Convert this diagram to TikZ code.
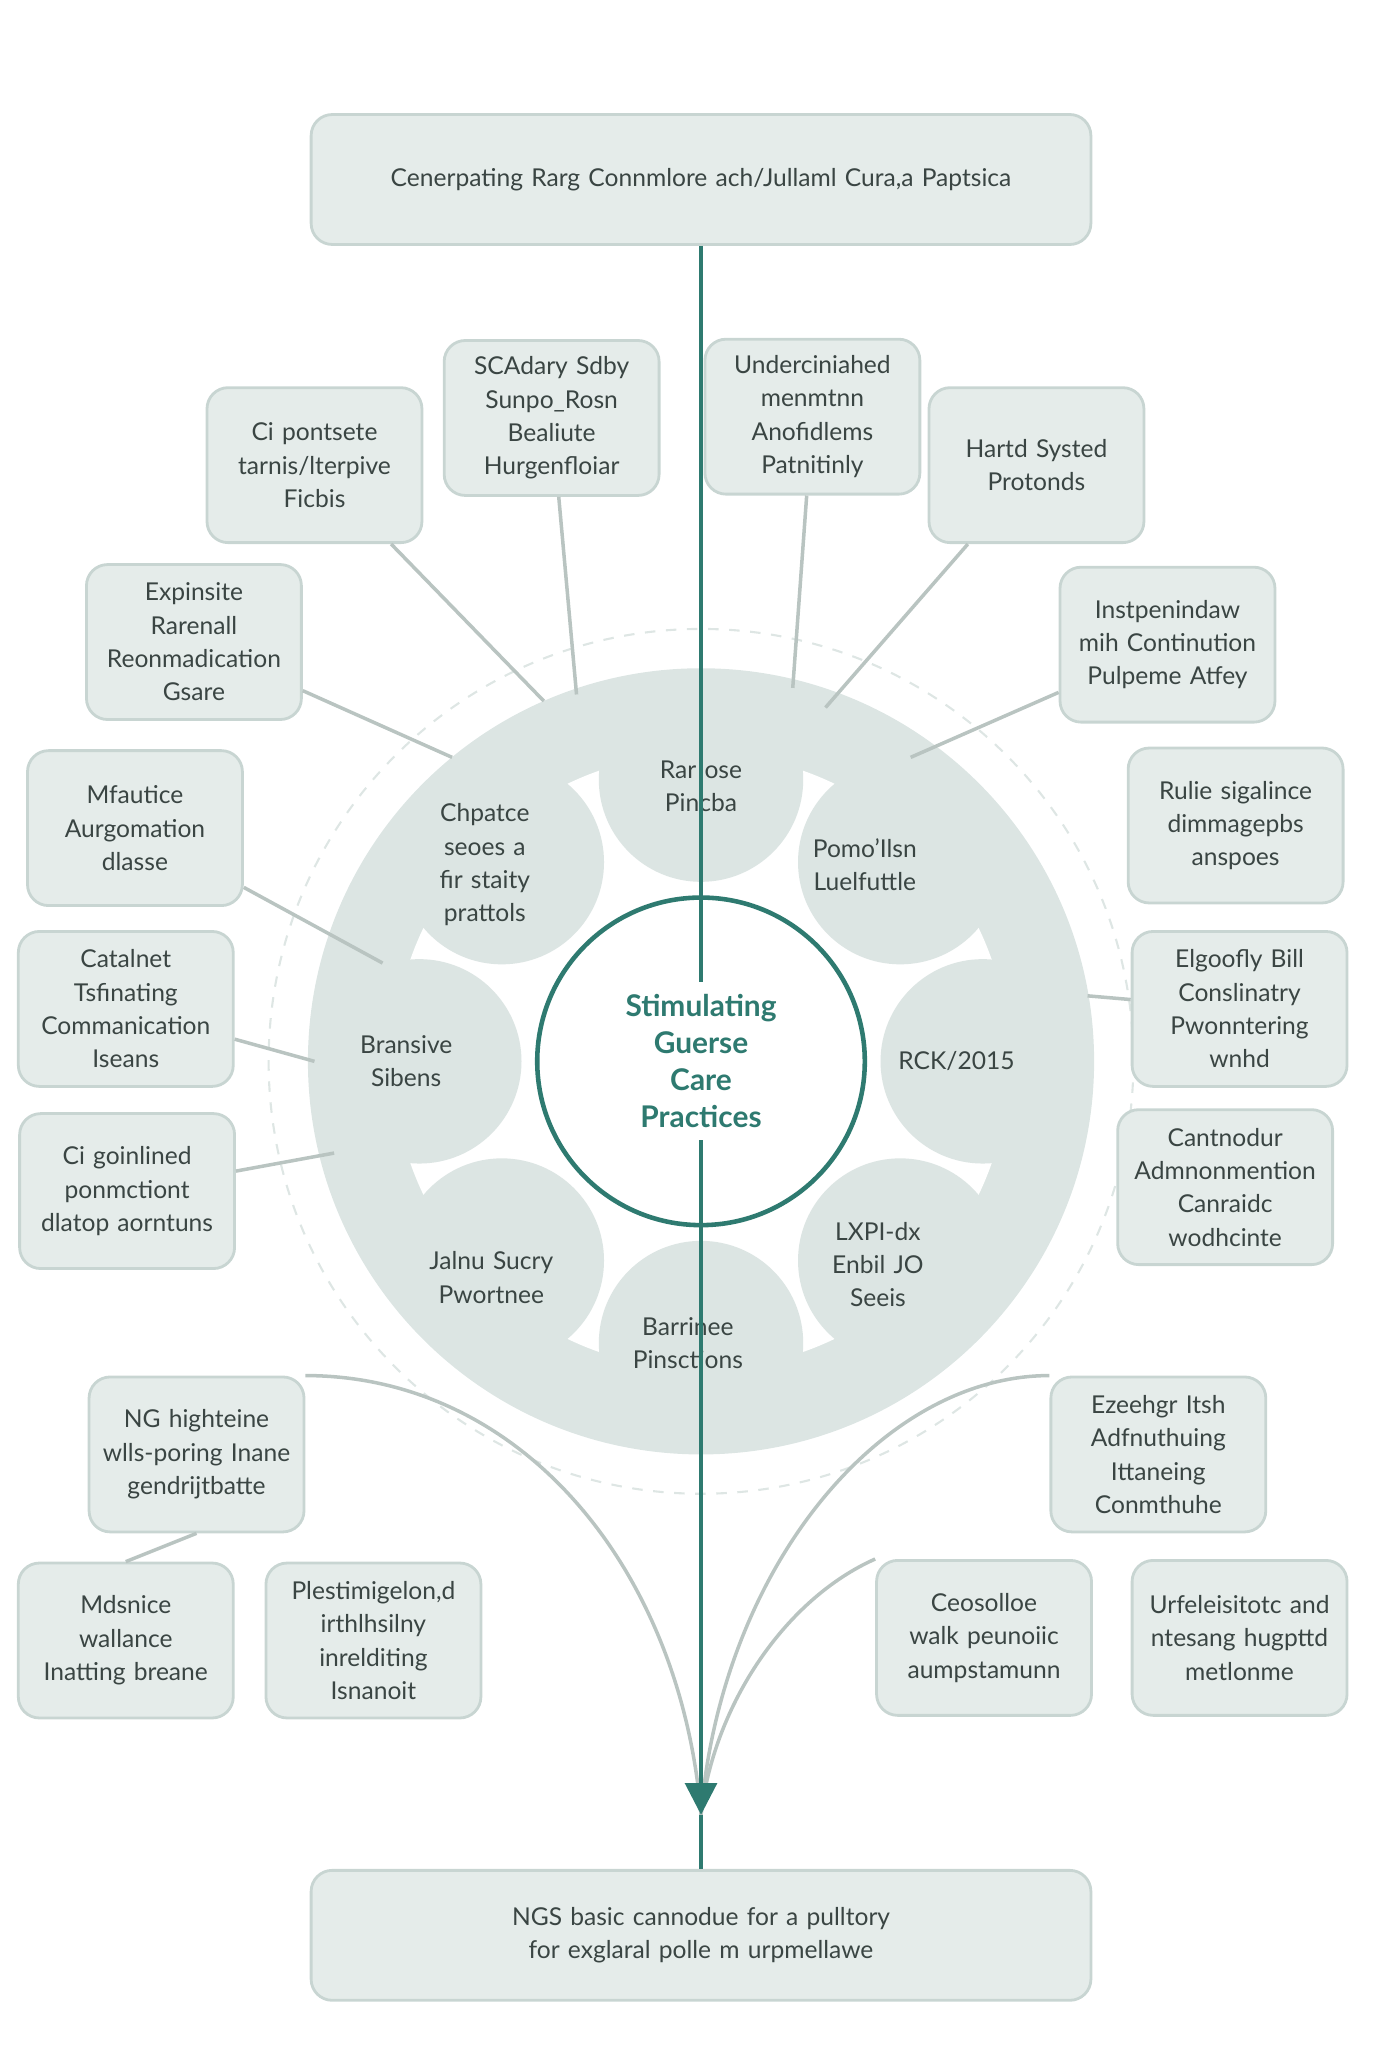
\documentclass[tikz,border=0pt]{standalone}
\usepackage{fontspec}
\setmainfont{Lato}
\usetikzlibrary{arrows.meta}
\definecolor{boxfill}{HTML}{E5ECEA}
\definecolor{boxline}{HTML}{C8D5D2}
\definecolor{ringfill}{HTML}{DCE5E3}
\definecolor{teal}{HTML}{2E7A70}
\definecolor{txt}{HTML}{3A4543}
\hyphenpenalty=10000
\tikzset{
  card/.style={rectangle, draw=boxline, fill=boxfill, rounded corners=6pt,
    text width=1.9cm, align=center, minimum width=2.15cm, minimum height=1.55cm,
    font=\fontsize{7}{9.5}\selectfont, text=txt, line width=0.8pt},
  wide/.style={card, text width=7cm, minimum width=7.8cm, minimum height=1.3cm},
  petal/.style={text width=1.3cm, align=center, font=\fontsize{7}{9.5}\selectfont, text=txt},
  link/.style={draw=boxline!80!gray, line width=1pt},
  spine/.style={draw=teal, line width=1.1pt}
}
\begin{document}
\begin{tikzpicture}[x=0.0131cm, y=-0.0131cm]
  \useasboundingbox (0,0) rectangle (1050,1563);
  % Ring
  \draw[boxline!60, dashed, line width=0.6pt] (535,810) circle (330);
  \fill[ringfill] (535,810) circle (300);
  \fill[white] (535,810) circle (235);
  \foreach \a in {90,45,0,-45,-90,-135,180,135}
    \fill[ringfill] (535,810) ++(\a:-215) circle (78);
  \fill[white] (535,810) circle (128);
  % Place nodes
  \node[wide] (top) at (535,137) {Cenerpating Rarg Connmlore ach/Jullaml Cura,a Paptsica};
  \node[wide] (bottom) at (535,1477) {NGS basic cannodue for a pulltory\\ for exglaral polle m urpmellawe};
  \node[petal] (p1) at (535,600) {Rar ose Pincba};
  \node[petal] (p2) at (660,660) {Pomo'Ilsn Luelfuttle};
  \node[petal] (p3) at (730,810) {RCK/2015};
  \node[petal] (p4) at (670,965) {LXPI-dx Enbil JO Seeis};
  \node[petal] (p5) at (525,1025) {Barrinee Pinsctions};
  \node[petal] (p6) at (375,975) {Jalnu Sucry Pwortnee};
  \node[petal] (p7) at (310,810) {Bransive Sibens};
  \node[petal] (p8) at (370,660) {Chpatce seoes a fir staity prattols};
  \draw[teal, line width=1.3pt, fill=white] (535,810) circle (125);
  \node[text width=1.6cm, align=center, text=teal, font=\fontsize{8.5}{10.5}\selectfont\bfseries] (hub) at (535,810) {Stimulating Guerse Care Practices};
  \node[card] (b1) at (240,355) {Ci pontsete tarnis/lterpive Ficbis};
  \node[card] (b2) at (148,490) {Expinsite Rarenall Reonmadication Gsare};
  \node[card] (b3) at (103,632) {Mfautice Aurgomation dlasse};
  \node[card] (b4) at (96,770) {Catalnet Tsfinating Commanication Iseans};
  \node[card] (b5) at (97,909) {Ci goinlined ponmctiont dlatop aorntuns};
  \node[card] (b6) at (421,319) {SCAdary Sdby Sunpo\_Rosn Bealiute Hurgenfloiar};
  \node[card] (b7) at (620,318) {Underciniahed menmtnn Anofidlems Patnitinly};
  \node[card] (b8) at (791,355) {Hartd Systed Protonds};
  \node[card] (b9) at (891,492) {Instpenindaw mih Continution Pulpeme Atfey};
  \node[card] (b10) at (943,630) {Rulie sigalince dimmagepbs anspoes};
  \node[card] (b11) at (946,770) {Elgoofly Bill Conslinatry Pwonntering wnhd};
  \node[card] (b12) at (935,906) {Cantnodur Admnonmention Canraidc wodhcinte};
  \node[card] (b13) at (150,1110) {NG highteine wlls-poring Inane gendrijtbatte};
  \node[card] (b14) at (96,1252) {Mdsnice wallance Inatting breane};
  \node[card] (b15) at (285,1252) {Plestimigelon,d irthlhsilny inrelditing Isnanoit};
  \node[card] (b16) at (884,1110) {Ezeehgr Itsh Adfnuthuing Ittaneing Conmthuhe};
  \node[card] (b17) at (751,1250) {Ceosolloe walk peunoiic aumpstamunn};
  \node[card] (b18) at (946,1250) {Urfeleisitotc and ntesang hugpttd metlonme};
  % Ring anchors
  \coordinate (r1) at (415,535);
  \coordinate (r2) at (440,530);
  \coordinate (r3) at (605,525);
  \coordinate (r4) at (630,540);
  \coordinate (r5) at (695,578);
  \coordinate (r2l) at (345,578);
  \coordinate (r3l) at (292,735);
  \coordinate (r4l) at (240,810);
  \coordinate (r5l) at (255,880);
  \coordinate (r11) at (830,760);
  \coordinate (join) at (535,1385);
  % Draw edges
  \path[link] (b1) -- (r1);
  \path[link] (b6) -- (r2);
  \path[link] (b7) -- (r3);
  \path[link] (b8) -- (r4);
  \path[link] (b9) -- (r5);
  \path[link] (b2) -- (r2l);
  \path[link] (b3) -- (r3l);
  \path[link] (b4) -- (r4l);
  \path[link] (b5) -- (r5l);
  \path[link] (b11) -- (r11);
  \path[link] (b13.north east) .. controls (400,1050) and (520,1200) .. (join);
  \path[link] (b13.south) -- (b14.north);
  \path[link] (b16.north west) .. controls (670,1050) and (550,1200) .. (join);
  \path[link] (b17.north west) .. controls (600,1220) and (545,1300) .. (join);
  \path[spine] (top) -- (hub);
  \path[spine, -{Triangle[length=9pt,width=9pt]}] (hub) -- (join);
  \path[spine] (join) -- (bottom);
\end{tikzpicture}
\end{document}
